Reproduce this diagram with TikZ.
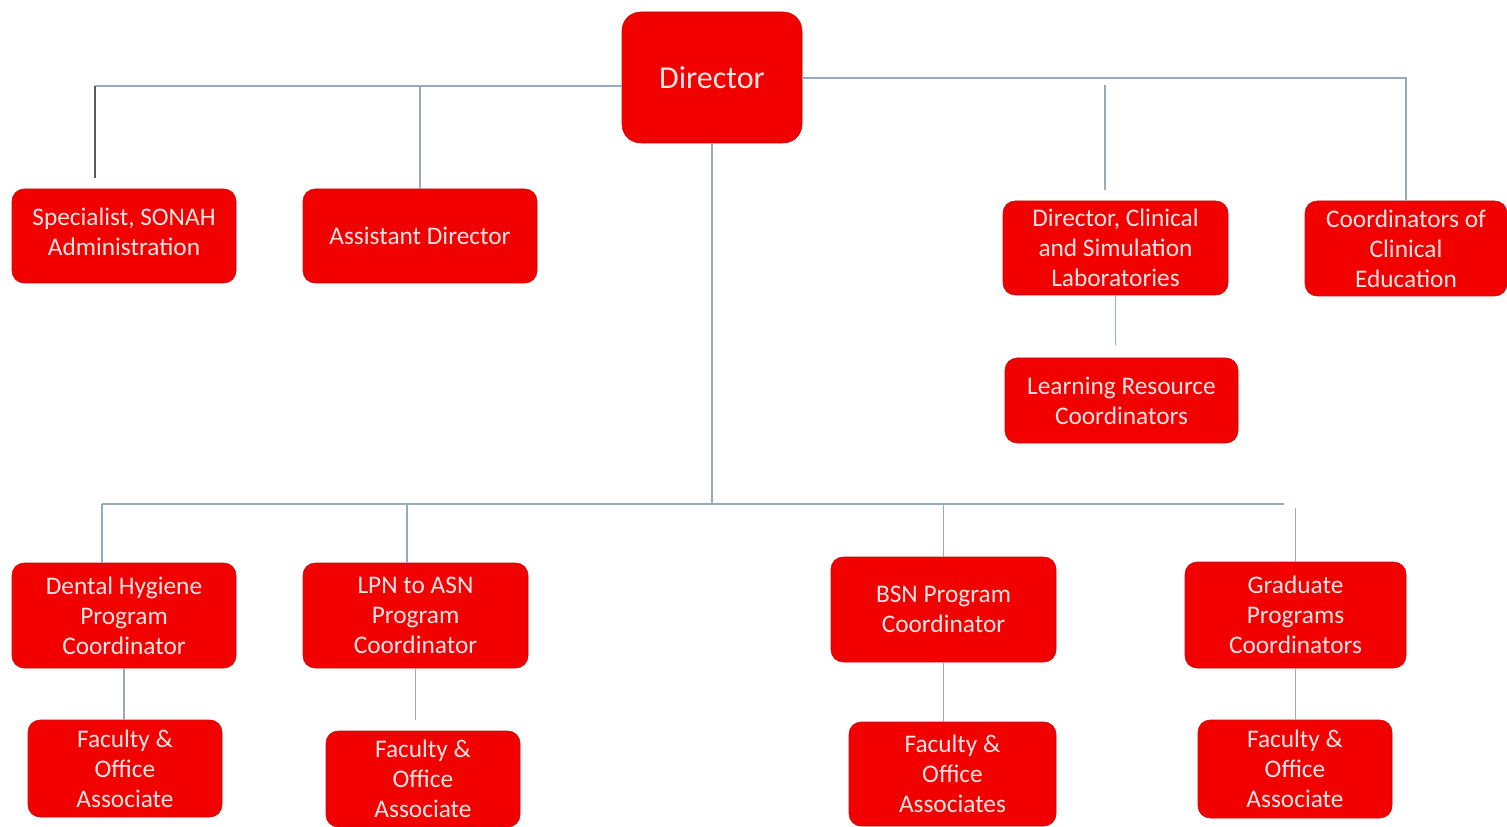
\documentclass[tikz,border=0pt]{standalone}
\usepackage{fontspec}
\setmainfont{Carlito}
\usetikzlibrary{positioning}
\definecolor{boxred}{RGB}{242,0,0}
\definecolor{boxedge}{RGB}{196,12,12}
\definecolor{linkgray}{RGB}{150,172,190}
\definecolor{textpink}{RGB}{252,228,228}

\begin{document}
\begin{tikzpicture}[x=0.75pt,y=-0.75pt,
    box/.style={draw=boxedge,fill=boxred,text=textpink,rounded corners=9pt,
        align=center,inner sep=0pt,font=\fontsize{19}{22.5}\selectfont},
    link/.style={draw=linkgray,line width=1pt}]
                \useasboundingbox (0,0) rectangle (1507,827);
                % top row
                \node[box, rounded corners=14pt, minimum width=135pt, minimum height=98.25pt,
                    font=\fontsize{24}{28}\selectfont] (dir) at (712,77.5) {Director};
                \node[box, minimum width=168pt, minimum height=70.5pt] (spec) at (124,236)
                    {Specialist, SONAH\\Administration\vphantom{g}\\[-16.5pt]};
                \node[box, minimum width=175.5pt, minimum height=70.5pt] (asst) at (420,236)
                    {Assistant Director};
                \node[box, minimum width=168.75pt, minimum height=70.5pt] (dcl) at (1115.5,248)
                    {Director, Clinical\\and Simulation\\Laboratories};
                \node[box, minimum width=151.5pt, minimum height=71.25pt] (coord) at (1406,248.5)
                    {Coordinators of\\Clinical\\Education};
                \node[box, minimum width=174.75pt, minimum height=63.75pt] (lrc) at (1121.5,400.5)
                    {Learning Resource\\Coordinators};
                % program row
                \node[box, minimum width=168pt, minimum height=78.75pt] (dh) at (124,615.5)
                    {Dental Hygiene\\Program\\Coordinator};
                \node[box, minimum width=168.75pt, minimum height=78.75pt] (lpn) at (415.5,615.5)
                    {LPN to ASN\\Program\\Coordinator};
                \node[box, minimum width=168.75pt, minimum height=78.75pt] (bsn) at (943.5,609.5)
                    {BSN Program\\Coordinator};
                \node[box, minimum width=165.75pt, minimum height=79.5pt] (grad) at (1295.5,615)
                    {Graduate\\Programs\\Coordinators};
                % faculty row
                \node[box, minimum width=145.5pt, minimum height=72.75pt] (fa1) at (125,768.5)
                    {Faculty \&\\Office\\Associate};
                \node[box, minimum width=145.5pt, minimum height=72pt] (fa2) at (423,779)
                    {Faculty \&\\Office\\Associate};
                \node[box, minimum width=155.25pt, minimum height=78pt] (fa3) at (952.5,774)
                    {Faculty \&\\Office\\Associates};
                \node[box, minimum width=145.5pt, minimum height=73.5pt] (fa4) at (1295,769)
                    {Faculty \&\\Office\\Associate};

                % bus points and loose ends
                \coordinate (lbus) at (95,86);
                \coordinate (spectop) at (95,178);
                \coordinate (rbus) at (1406,78);
                \coordinate (dcltop) at (1105,85);
                \coordinate (dclbot) at (1105,190);
                \coordinate (lrctop) at (1115.5,345);
                \coordinate (bl) at (102,504);
                \coordinate (br) at (1284,504);
                \coordinate (lpnup) at (407,504);

                \draw[link] (lbus) -- (lbus -| dir.west);
                \draw[link, draw=black!65] (spectop) -- (lbus);
                \draw[link] (asst.north) -- (asst.north |- lbus);
                \draw[link] (dir.east |- rbus) -- (rbus) -- (coord.north);
                \draw[link] (dcltop) -- (dclbot);
                \draw[link] (dcl.south) -- (lrctop);
                \draw[link] (dir.south) -- (dir.south |- bl);
                \draw[link] (bl) -- (br);
                \draw[link] (bl) -- (bl |- dh.north);
                \draw[link] (lpnup) -- (lpnup |- lpn.north);
                \draw[link] (bsn.north) -- (bsn.north |- br);
                \draw[link] (grad.north) -- ++(0,-54);
                \draw[link] (dh.south) -- (dh.south |- fa1.north);
                \draw[link] (lpn.south) -- ++(0,52);
                \draw[link] (bsn.south) -- (bsn.south |- fa3.north);
                \draw[link] (grad.south) -- (grad.south |- fa4.north);
\end{tikzpicture}
\end{document}
